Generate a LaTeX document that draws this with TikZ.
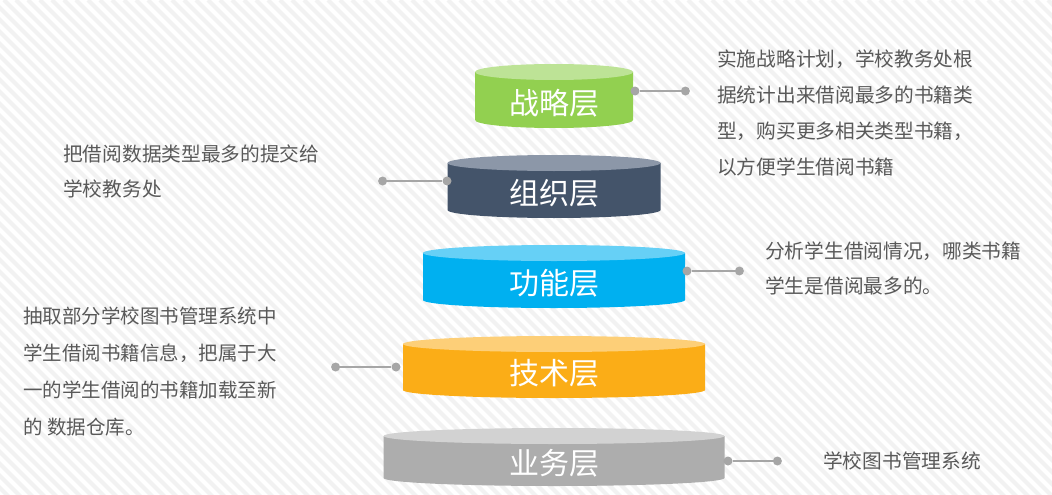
\documentclass[tikz,border=0pt]{standalone}
\usepackage{fontspec}
\newfontfamily\cjk{Noto Sans CJK SC}
\usetikzlibrary{positioning}

\definecolor{laygreen}{HTML}{92D050}
\definecolor{laygreentop}{HTML}{BDE396}
\definecolor{laynavy}{HTML}{44546A}
\definecolor{laynavytop}{HTML}{8C97A8}
\definecolor{layblue}{HTML}{00B0F0}
\definecolor{laybluetop}{HTML}{66D0F6}
\definecolor{layorange}{HTML}{FBAD17}
\definecolor{layorangetop}{HTML}{FDCF78}
\definecolor{laygray}{HTML}{ADADAD}
\definecolor{laygraytop}{HTML}{D2D2D2}
\definecolor{notegray}{HTML}{595959}
\definecolor{pingray}{HTML}{A6A6A6}

% one disk: centre x, half width, top y, bottom y, body, lid
\newcommand{\layerdisk}[6]{%
  \fill[#5] (#1-#2,#3) -- (#1-#2,#4)
    arc[start angle=180,end angle=0,x radius=#2,y radius=8] -- (#1+#2,#3) -- cycle;
  \fill[#6] (#1,#3) ellipse[x radius=#2,y radius=8];
}

\begin{document}
\begin{tikzpicture}[x=1pt,y=-1pt,
  layer/.style={text=white,inner sep=0pt,font=\cjk\fontsize{30}{30}\selectfont},
  note/.style={text=notegray,inner sep=0pt,anchor=north west,align=left},
  pin/.style={circle,fill=pingray,minimum size=9pt,inner sep=0pt},
  pinline/.style={draw=pingray,line width=2.5pt}]
  \fill[white] (0,0) rectangle (1052,495);
  \begin{scope}
    \clip (0,0) rectangle (1052,495);
    \foreach \s in {-500,-488,...,1052}
      \draw[black!5,line width=4pt] (\s,0) -- ++(500,500);
  \end{scope}
  \useasboundingbox (0,0) rectangle (1052,495);

  \layerdisk{554}{79}{72}{120}{laygreen}{laygreentop}
  \layerdisk{554}{106.5}{163}{210}{laynavy}{laynavytop}
  \layerdisk{554}{131}{253}{300}{layblue}{laybluetop}
  \layerdisk{554}{151}{344}{390}{layorange}{layorangetop}
  \layerdisk{554}{170.5}{436}{478}{laygray}{laygraytop}

  \node[layer] (L1) at (554,103) {战略层};
  \node[layer] (L2) at (554,193) {组织层};
  \node[layer] (L3) at (554,283) {功能层};
  \node[layer] (L4) at (554,373) {技术层};
  \node[layer] (L5) at (554,463) {业务层};

  \node[pin] (P1) at (635,91) {};
  \node[pin] (Q1) [right=41pt of P1] {};
  \node[pin] (P2) at (447,181) {};
  \node[pin] (Q2) [left=55pt of P2] {};
  \node[pin] (P3) at (687,271) {};
  \node[pin] (Q3) [right=43pt of P3] {};
  \node[pin] (P4) at (396,367) {};
  \node[pin] (Q4) [left=51pt of P4] {};
  \node[pin] (P5) at (728,461) {};
  \node[pin] (Q5) [right=40pt of P5] {};

  \path[pinline]
  (P1) edge (Q1)
  (P2) edge (Q2)
  (P3) edge (Q3)
  (P4) edge (Q4)
  (P5) edge (Q5)
  ;

  \node[note,font=\cjk\fontsize{19.7}{35.7}\selectfont] (N1) at (717,50)
    {实施战略计划，学校教务处根\\据统计出来借阅最多的书籍类\\型，购买更多相关类型书籍，\\以方便学生借阅书籍};
  \node[note,font=\cjk\fontsize{19.7}{35}\selectfont] (N2) at (63,145)
    {把借阅数据类型最多的提交给\\学校教务处};
  \node[note,font=\cjk\fontsize{19.7}{35}\selectfont] (N3) at (765,242)
    {分析学生借阅情况，哪类书籍\\学生是借阅最多的。};
  \node[note,font=\cjk\fontsize{19.5}{37}\selectfont] (N4) at (23,307)
    {抽取部分学校图书管理系统中\\学生借阅书籍信息，把属于大\\一的学生借阅的书籍加载至新\\的 数据仓库。};
  \node[note,font=\cjk\fontsize{19.7}{35}\selectfont] (N5) at (823,452)
    {学校图书管理系统};
\end{tikzpicture}
\end{document}
